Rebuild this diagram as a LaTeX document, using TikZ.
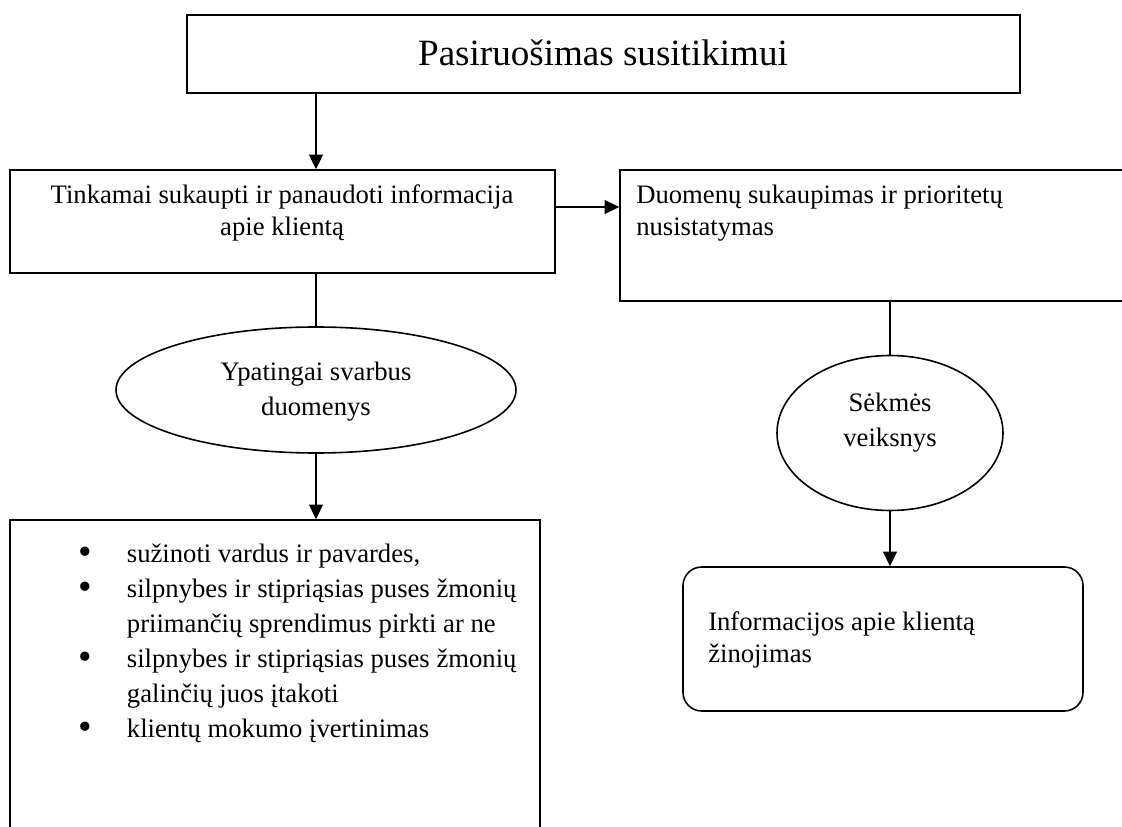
\documentclass[tikz,border=0pt]{standalone}
\usepackage{fontspec}
\setmainfont{Liberation Serif}
\usetikzlibrary{arrows.meta,shapes.geometric,fit}
\newcommand{\bodyfont}{\fontsize{20}{26.25}\selectfont}
\newcommand{\boxfont}{\fontsize{20}{24.5}\selectfont}
\newcommand{\titlefont}{\fontsize{27.8}{32}\selectfont}
\newcommand{\bigdot}{\raisebox{-0.05em}{\scalebox{1.45}{\textbullet}}}
\begin{document}
\begin{tikzpicture}[x=0.75pt,y=-0.75pt,
  frame/.style={draw,line width=1.2pt,rectangle,inner sep=0pt},
  oval/.style={draw,line width=1.2pt,ellipse,inner sep=0pt},
  txt/.style={inner sep=0pt,font=\bodyfont},
  boxtxt/.style={inner sep=0pt,font=\boxfont},
  conn/.style={line width=1pt},
  arr/.style={line width=1pt,-{Triangle[length=11pt,width=10.5pt]}}]
\useasboundingbox (0,0) rectangle (1122,827);
\clip (0,0) rectangle (1122,827);

% boxes
\node[frame,fit={(187,15) (1020,93)}] (top) {};
\node[txt,font=\titlefont] (toptxt) at (603,53) {Pasiruošimas susitikimui};

\node[frame,fit={(10,170) (555,273)}] (b2) {};
\node[boxtxt,align=center] (b2txt) at (282,213)
  {Tinkamai sukaupti ir panaudoti informacija\\apie klientą};

\node[frame,fit={(620,170) (1135,301)}] (b3) {};
\node[boxtxt,align=left,anchor=west] (b3txt) at (636,213)
  {Duomenų sukaupimas ir prioritetų\\nusistatymas};

\node[oval,minimum width=300pt,minimum height=94.5pt] (e1) at (316,390) {};
\node[txt,align=center] (e1txt) at (316,392) {Ypatingai svarbus\\duomenys};

\node[oval,minimum width=169.5pt,minimum height=116.25pt] (e2) at (890,433) {};
\node[txt,align=center] (e2txt) at (890,423) {Sėkmės\\veiksnys};

\node[frame,fit={(10,520) (540,860)}] (b4) {};
\node[txt,anchor=north west] (b4txt) at (78,538)
  {\renewcommand{\arraystretch}{1}%
   \begin{tabular}{@{}p{36.5pt}@{}l@{}}
   \bigdot & sužinoti vardus ir pavardes,\\
   \bigdot & silpnybes ir stipriąsias puses žmonių\\
           & priimančių sprendimus pirkti ar ne\\
   \bigdot & silpnybes ir stipriąsias puses žmonių\\
           & galinčių juos įtakoti\\
   \bigdot & klientų mokumo įvertinimas
   \end{tabular}};

\node[frame,rounded corners=14pt,fit={(683,567) (1083,711)}] (b5) {};
\node[boxtxt,align=left,anchor=west] (b5txt) at (708,640)
  {Informacijos apie klientą\\žinojimas};

% connectors
\coordinate (hy) at (0,207);
\draw[arr] (top.south -| e1.center) -- (b2.north -| e1.center);
\draw[arr] (b2.east |- hy) -- (b3.west |- hy);
\draw[conn] (b2.south -| e1.center) -- (e1.north);
\draw[arr] (e1.south) -- (b4.north -| e1.center);
\draw[conn] (b3.south -| e2.center) -- (e2.north);
\draw[arr] (e2.south) -- (b5.north -| e2.center);
\end{tikzpicture}
\end{document}
